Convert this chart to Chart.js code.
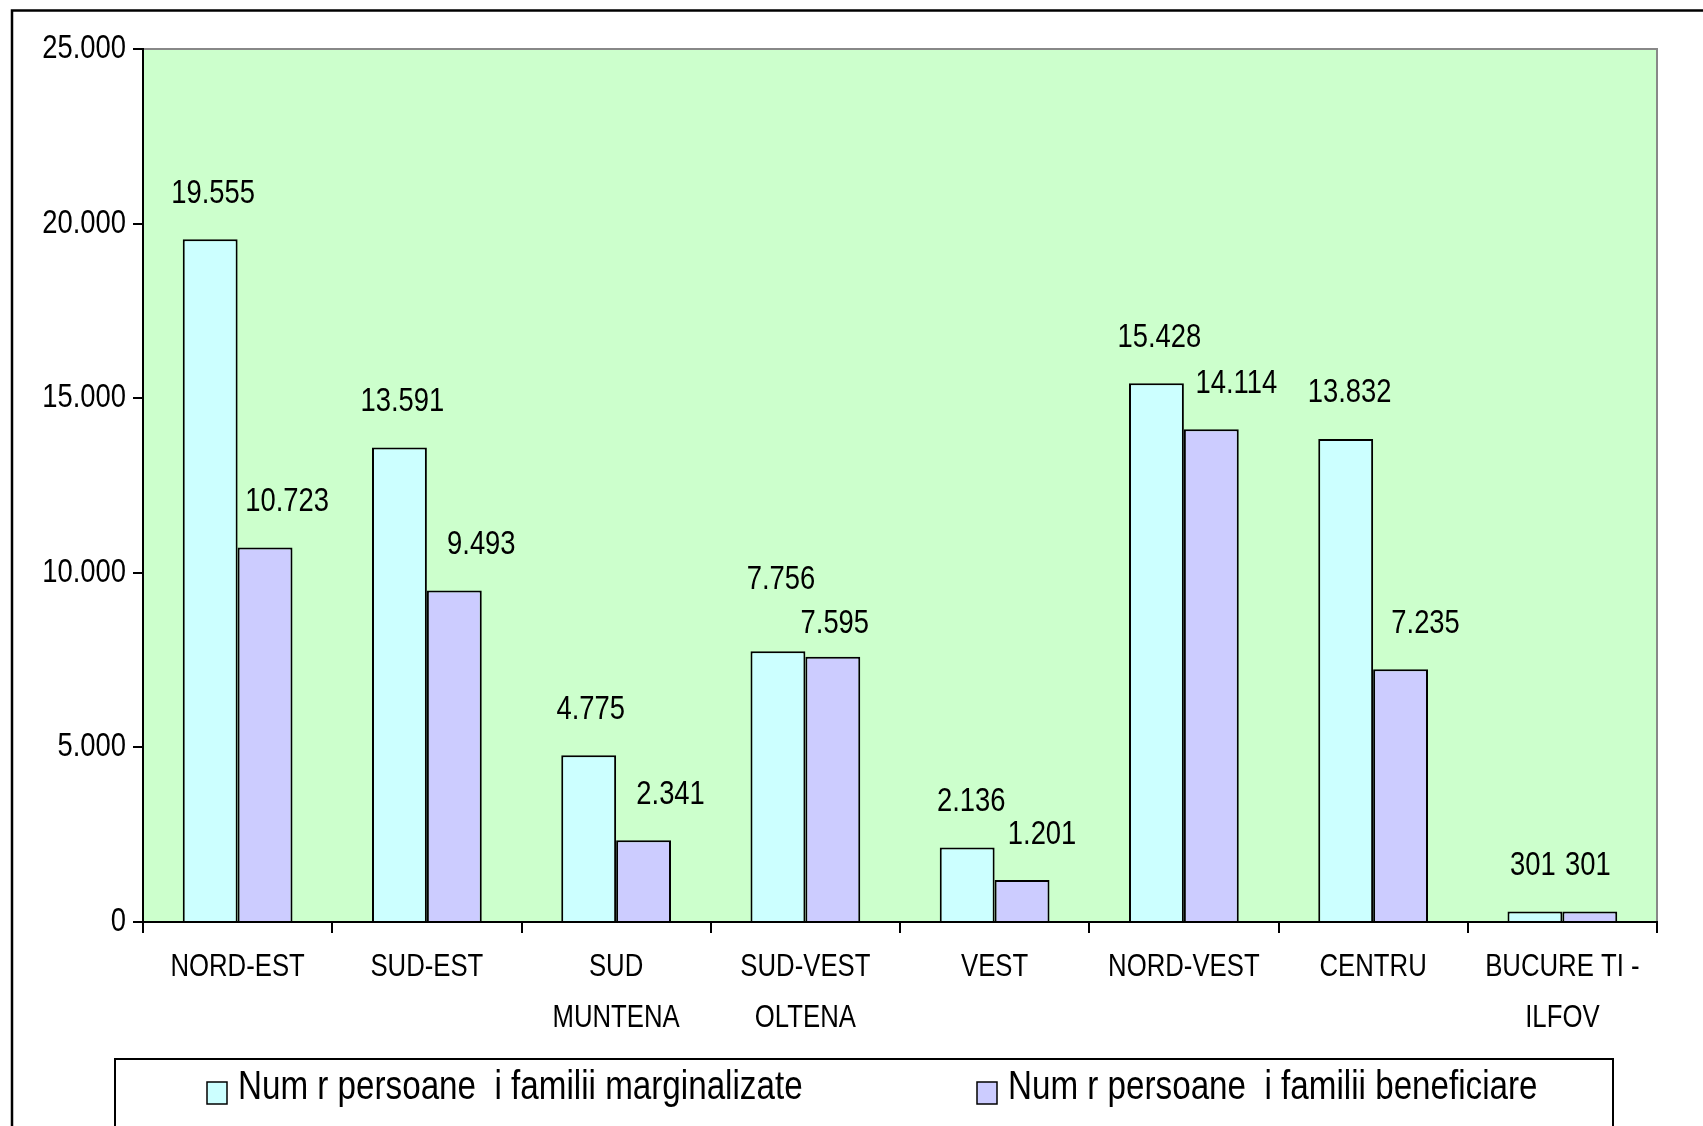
<!DOCTYPE html>
<html>
<head>
<meta charset="utf-8">
<script src="https://cdn.jsdelivr.net/npm/chart.js@4.4.1/dist/chart.umd.min.js"></script>
<style>
  html, body { margin: 0; padding: 0; background: #fff; overflow: hidden; }
  #c { display: block; }
</style>
</head>
<body>
<canvas id="c" width="1703" height="1126"></canvas>
<script>
// ---- data ----
const categories = [
  ["NORD-EST"], ["SUD-EST"], ["SUD", "MUNTENA"], ["SUD-VEST", "OLTENA"],
  ["VEST"], ["NORD-VEST"], ["CENTRU"], ["BUCURE TI -", "ILFOV"]
];
const marginalizate = [19555, 13591, 4775, 7756, 2136, 15428, 13832, 301];
const beneficiare   = [10723, 9493, 2341, 7595, 1201, 14114, 7235, 301];
const seriesNames = [
  "Num r persoane  i familii marginalizate",
  "Num r persoane  i familii beneficiare"
];
const yMin = 0, yMax = 25000, yStep = 5000;

// ---- style ----
const FONT = "'Liberation Sans', Arial, sans-serif";
const SX = 0.83; // horizontal condensation of all text
const colors = ["#CCFFFF", "#CCCCFF"];
const labelNudgeX = [
  [3, 3, 2, 3, 4, 3, 4, -2],
  [22, 27, 27, 2, 20, 25, 25, -2]
];
const labelNudgeY = [
  [0, 0, 0, -26, 0, 0, 0, 0],
  [0, 0, 0, 13, 0, 0, 0, 0]
];

function fmt(v) {
  return String(v).replace(/\B(?=(\d{3})+(?!\d))/g, ".");
}

const canvas = document.getElementById("c");
const ctx = canvas.getContext("2d");
const origFill = ctx.fillText.bind(ctx);
const origMeasure = ctx.measureText.bind(ctx);
ctx.fillText = function (t, x, y) {
  this.save();
  this.translate(x, y);
  this.scale(SX, 1);
  origFill(t, 0, 0);
  this.restore();
};
ctx.measureText = function (t) {
  const m = origMeasure(t);
  return {
    width: m.width * SX,
    actualBoundingBoxAscent: m.actualBoundingBoxAscent,
    actualBoundingBoxDescent: m.actualBoundingBoxDescent,
    actualBoundingBoxLeft: m.actualBoundingBoxLeft * SX,
    actualBoundingBoxRight: m.actualBoundingBoxRight * SX
  };
};

const decor = {
  id: "decor",
  beforeDraw(chart) {
    const c = chart.ctx, a = chart.chartArea;
    c.save();
    c.fillStyle = "#fff";
    c.fillRect(0, 0, chart.width, chart.height);
    c.fillStyle = "#CCFFCC";
    c.fillRect(a.left, a.top, a.right - a.left, a.bottom - a.top);
    c.strokeStyle = "#888888";
    c.lineWidth = 2;
    c.beginPath();
    c.moveTo(a.left, a.top);
    c.lineTo(a.right, a.top);
    c.lineTo(a.right, a.bottom);
    c.stroke();
    // outer frame
    c.strokeStyle = "#000";
    c.lineWidth = 2.5;
    c.strokeRect(12, 10.5, chart.width + 20, chart.height + 20);
    c.restore();
  },
  afterDatasetsDraw(chart) {
    const c = chart.ctx;
    c.save();
    c.fillStyle = "#000";
    c.font = "33px " + FONT;
    c.textAlign = "center";
    c.textBaseline = "alphabetic";
    chart.data.datasets.forEach((ds, di) => {
      const meta = chart.getDatasetMeta(di);
      meta.data.forEach((bar, i) => {
        c.fillText(fmt(ds.data[i]), bar.x + labelNudgeX[di][i],
                   bar.y - 36.5 + labelNudgeY[di][i]);
      });
    });
    c.restore();
  },
  afterDraw(chart) {
    const c = chart.ctx;
    c.save();
    c.strokeStyle = "#000";
    c.lineWidth = 2;
    c.strokeRect(115, 1059, 1613 - 115, 200);
    const itemX = [207, 977];
    chart.data.datasets.forEach((ds, di) => {
      c.fillStyle = ds.backgroundColor;
      c.fillRect(itemX[di], 1082, 20, 22);
      c.lineWidth = 1.5;
      c.strokeRect(itemX[di], 1082, 20, 22);
      c.fillStyle = "#000";
      c.font = "40px " + FONT;
      c.textAlign = "left";
      c.textBaseline = "alphabetic";
      c.fillText(ds.label, itemX[di] + 31, 1099);
    });
    c.restore();
  }
};

new Chart(ctx, {
  type: "bar",
  data: {
    labels: categories,
    datasets: [
      { label: seriesNames[0], data: marginalizate, backgroundColor: colors[0],
        borderColor: "#000", borderWidth: 2 },
      { label: seriesNames[1], data: beneficiare, backgroundColor: colors[1],
        borderColor: "#000", borderWidth: 2 }
    ]
  },
  options: {
    responsive: false,
    animation: false,
    devicePixelRatio: 1,
    datasets: { bar: { categoryPercentage: 0.58, barPercentage: 1.0 } },
    layout: { padding: { left: 0, top: 49, right: 46, bottom: 0 } },
    plugins: { legend: { display: false }, tooltip: { enabled: false } },
    scales: {
      x: {
        grid: { display: true, drawOnChartArea: false, drawTicks: true, tickLength: 11,
                color: "#000", lineWidth: 2, offset: true },
        border: { display: true, color: "#000", width: 2 },
        ticks: { color: "#000", font: { size: 31, family: FONT, lineHeight: 1.65 },
                 padding: 9, maxRotation: 0, minRotation: 0, autoSkip: false },
        afterFit(s) { s.height = 1126 - 922; }
      },
      y: {
        min: yMin, max: yMax,
        grid: { display: true, drawOnChartArea: false, drawTicks: true, tickLength: 10,
                color: "#000", lineWidth: 2 },
        border: { display: true, color: "#000", width: 2 },
        ticks: { stepSize: yStep, color: "#000", font: { size: 33, family: FONT },
                 padding: 7, callback: v => fmt(v) },
        afterFit(s) { s.width = 143; }
      }
    }
  },
  plugins: [decor]
});
</script>
</body>
</html>
